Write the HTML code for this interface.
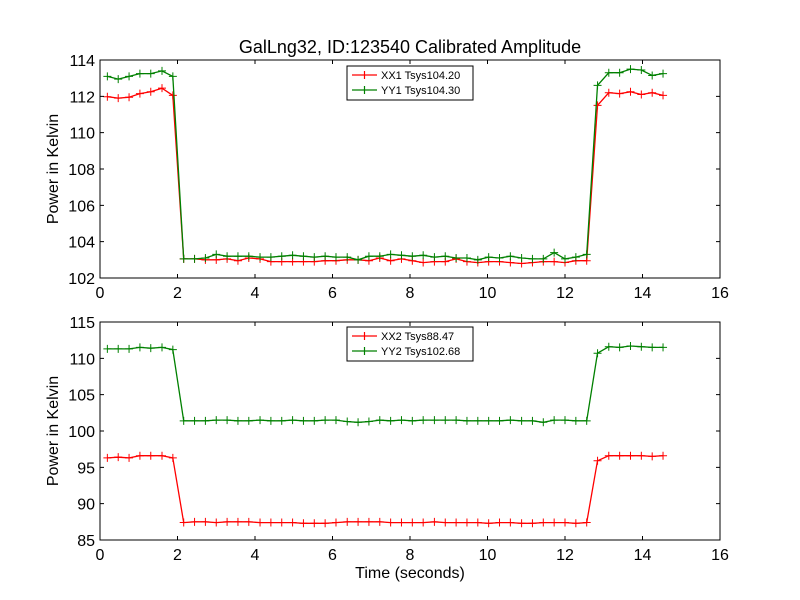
<!DOCTYPE html>
<html><head><meta charset="utf-8"><style>
body{margin:0;background:#fff}
svg{display:block;font-family:"Liberation Sans","DejaVu Sans",sans-serif}
</style></head><body>
<svg id="chart" width="800" height="600" viewBox="0 0 800 600">
<rect width="800" height="600" fill="#fff"/>
<text x="410" y="53" text-anchor="middle" font-size="18">GalLng32, ID:123540 Calibrated Amplitude</text>
<g id="top"></g>
<g id="bot"></g>
</svg>
<script>
const times=[0.19,0.47,0.75,1.03,1.31,1.60,1.88,2.16,2.44,2.72,3.00,3.28,3.56,3.84,4.13,4.41,4.69,4.97,5.25,5.53,5.81,6.09,6.38,6.66,6.94,7.22,7.50,7.78,8.06,8.34,8.63,8.91,9.19,9.47,9.75,10.03,10.31,10.59,10.88,11.16,11.44,11.72,12.00,12.28,12.56,12.84,13.13,13.41,13.69,13.97,14.25,14.53];
const xx1=[111.98,111.9,111.95,112.15,112.25,112.45,112.05,
103.05,103.05,103.0,103.0,103.05,102.95,103.1,103.05,102.9,102.9,102.9,102.9,102.9,102.95,102.95,103.0,103.0,102.95,103.1,102.95,103.05,102.95,102.85,102.9,102.9,103.05,102.9,102.85,102.9,102.9,102.85,102.8,102.85,102.9,102.9,102.85,102.95,102.95,
111.5,112.2,112.15,112.25,112.1,112.2,112.05];
const yy1=[113.1,112.95,113.1,113.25,113.25,113.4,113.1,
103.05,103.05,103.1,103.3,103.2,103.2,103.2,103.15,103.15,103.2,103.25,103.2,103.15,103.2,103.15,103.15,103.0,103.2,103.2,103.3,103.25,103.2,103.25,103.15,103.2,103.1,103.1,103.0,103.15,103.1,103.2,103.1,103.05,103.05,103.4,103.05,103.15,103.3,
112.6,113.3,113.3,113.5,113.45,113.15,113.25];
const xx2=[96.3,96.4,96.3,96.6,96.6,96.6,96.3,
87.4,87.5,87.5,87.4,87.5,87.5,87.5,87.4,87.4,87.4,87.4,87.3,87.3,87.3,87.4,87.5,87.5,87.5,87.5,87.4,87.4,87.4,87.4,87.5,87.4,87.4,87.4,87.4,87.3,87.4,87.4,87.3,87.3,87.4,87.4,87.4,87.3,87.4,
95.9,96.6,96.6,96.6,96.6,96.5,96.6];
const yy2=[111.3,111.3,111.3,111.5,111.4,111.5,111.2,
101.4,101.4,101.4,101.5,101.5,101.4,101.4,101.5,101.4,101.4,101.5,101.4,101.4,101.5,101.5,101.3,101.2,101.3,101.5,101.4,101.5,101.4,101.5,101.5,101.5,101.5,101.4,101.4,101.4,101.4,101.5,101.4,101.4,101.2,101.5,101.5,101.4,101.4,
110.7,111.6,111.5,111.7,111.6,111.5,111.5];
const xTicks=[0,2,4,6,8,10,12,14,16];
const topTicks=[102,104,106,108,110,112,114];
const botTicks=[85,90,95,100,105,110,115];
const legendTop=["XX1 Tsys104.20","YY1 Tsys104.30"];
const legendBot=["XX2 Tsys88.47","YY2 Tsys102.68"];

const NS="http://www.w3.org/2000/svg";
function mk(p,t,a){const e=document.createElementNS(NS,t);for(const k in a)e.setAttribute(k,a[k]);p.appendChild(e);return e;}
function panel(g,y0,y1,ymin,ymax,ticks,series,labels,showX,legY,key){
  const X0=100,X1=720;
  const sx=v=>X0+(v-0)/(16-0)*(X1-X0);
  const sy=v=>y1-(v-ymin)/(ymax-ymin)*(y1-y0);
  const colors=["#ff0000","#008000"];
  series.forEach((s,si)=>{
    const pts=s.map((v,i)=>sx(times[i]).toFixed(1)+","+sy(v).toFixed(1)).join(" ");
    const pl=mk(g,"polyline",{points:pts,fill:"none",stroke:colors[si],"stroke-width":1.3});
    
    
    s.forEach((v,i)=>{
      const x=sx(times[i]),y=sy(v);
      const m=mk(g,"path",{d:`M${x-4},${y}H${x+4}M${x},${y-4}V${y+4}`,stroke:colors[si],"stroke-width":1});
      
      
    });
  });
  const fr=mk(g,"rect",{x:X0,y:y0,width:X1-X0,height:y1-y0,fill:"none",stroke:"#000","stroke-width":1});
  
  
  xTicks.forEach(t=>{
    const x=sx(t);
    mk(g,"path",{d:`M${x},${y1}v-4M${x},${y0}v4`,stroke:"#000"});
    const tx=mk(g,"text",{x:x,y:y1+20,"text-anchor":"middle","font-size":16});
    tx.textContent=t;
    
    
  });
  ticks.forEach(t=>{
    const y=sy(t);
    mk(g,"path",{d:`M${X0},${y}h4M${X1},${y}h-4`,stroke:"#000"});
    const tx=mk(g,"text",{x:X0-5,y:y+6,"text-anchor":"end","font-size":16});
    tx.textContent=t;
    
    
  });
  const yt=mk(g,"text",{x:0,y:0,"text-anchor":"middle","font-size":16,transform:`translate(58,${(y0+y1)/2}) rotate(-90)`});
  yt.textContent="Power in Kelvin";
  
  
  if(showX){
    const xt=mk(g,"text",{x:410,y:578,"text-anchor":"middle","font-size":16});
    xt.textContent="Time (seconds)";
    
    
  }
  const lg=mk(g,"g",{});
  
  
  mk(lg,"rect",{x:347,y:legY,width:126,height:34,fill:"#fff",stroke:"#000","stroke-width":1});
  labels.forEach((l,i)=>{
    const yy=legY+9+i*15;
    mk(lg,"path",{d:`M352,${yy}h25M364.5,${yy-4}v8`,stroke:colors[i],"stroke-width":1.2});
    const t=mk(lg,"text",{x:381,y:yy+4,"font-size":11});
    t.textContent=l;
    
    
  });
}
panel(document.getElementById("top"),60,278,102,114,topTicks,[xx1,yy1],legendTop,false,66,"top");
panel(document.getElementById("bot"),322,540,85,115,botTicks,[xx2,yy2],legendBot,true,327,"bottom");
</script>
</body></html>
